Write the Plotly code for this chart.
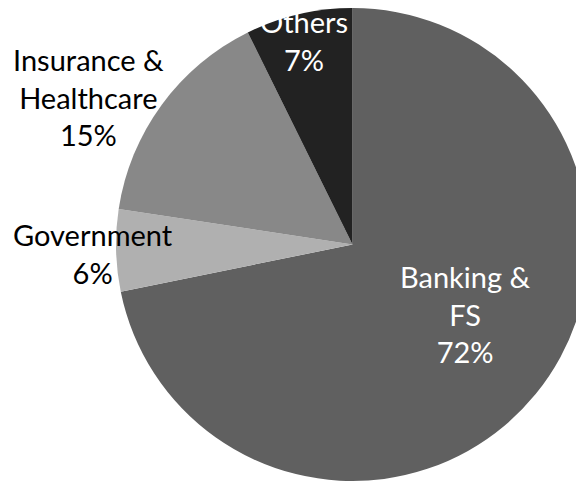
import plotly.graph_objects as go

categories = ["Banking &<br>FS", "Government", "Insurance &<br>Healthcare", "Others"]
values = [71.8, 5.6, 15.3, 7.3]
pct_labels = ["72%", "6%", "15%", "7%"]
colors = ["#606060", "#b0b0b0", "#888888", "#222222"]
text_colors = ["#ffffff", "#000000", "#000000", "#ffffff"]

W, H = 600, 482
L, T, R = 116, 8, 11
PW = W - L - R
PH = 473
B = H - T - PH

# label block centres in pixels (page coordinates)
label_px = [(465, 314), (93, 253), (88, 97), (304, 40)]

fig = go.Figure()
fig.add_trace(go.Pie(
    labels=[c.replace("<br>", " ") for c in categories],
    values=values,
    sort=False,
    direction="clockwise",
    rotation=0,
    marker=dict(colors=colors, line=dict(width=0)),
    textinfo="none",
    hoverinfo="label+percent",
    showlegend=False,
))

for cat, pct, (px, py), tc in zip(categories, pct_labels, label_px, text_colors):
    fig.add_annotation(
        text=f"{cat}<br>{pct}",
        xref="paper", yref="paper",
        x=(px - L) / PW, y=1 - (py - T) / PH,
        xanchor="center", yanchor="middle",
        showarrow=False, align="center",
        font=dict(family="Lato", size=29, color=tc),
    )

fig.update_layout(
    width=W, height=H,
    margin=dict(l=L, r=R, t=T, b=B),
    paper_bgcolor="white",
    plot_bgcolor="white",
)

fig.write_html(
    "out.html",
    config={"displayModeBar": False},
    post_script="document.body.style.margin='0';document.body.style.overflow='hidden';document.documentElement.style.overflow='hidden';",
)
